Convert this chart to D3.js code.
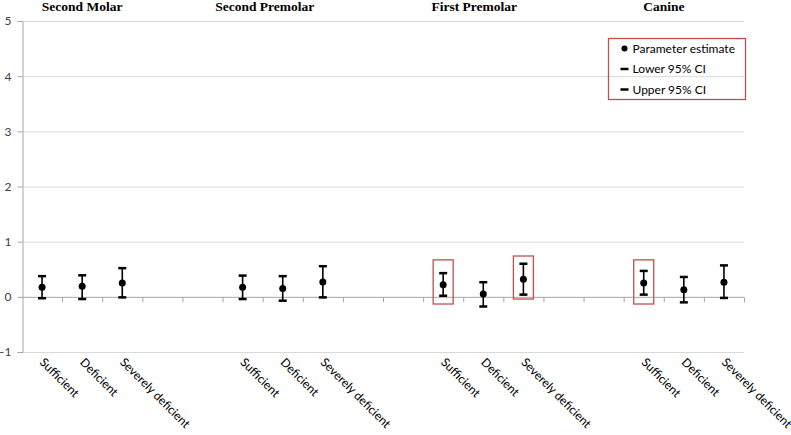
<!DOCTYPE html>
<html>
<head>
<meta charset="utf-8">
<script src="https://cdn.jsdelivr.net/npm/d3@7"></script>
<style>
  body { margin: 0; background: #fff; }
  svg { display: block; }
</style>
</head>
<body>
<div id="chart"></div>
<script>
// data
var groups = ['Second Molar', 'Second Premolar', 'First Premolar', 'Canine'];
var levels = ['Sufficient', 'Deficient', 'Severely deficient'];
var estimate = [0.175, 0.19, 0.25,   0.175, 0.15, 0.27,   0.22, 0.05, 0.32,   0.25, 0.13, 0.265];
var lower    = [-0.025, -0.04, -0.01, -0.04, -0.07, -0.01, 0.02, -0.175, 0.04, 0.04, -0.10, -0.02];
var upper    = [0.375, 0.39, 0.52,   0.385, 0.375, 0.555, 0.43, 0.265, 0.60,  0.47, 0.36, 0.57];
var yTicks = [-1, 0, 1, 2, 3, 4, 5];
var legendItems = ['Parameter estimate', 'Lower 95% CI', 'Upper 95% CI'];
// red boxes drawn round some estimates: [group, level, top, bottom] in y units
var highlights = [
    [2, 0, 0.67, -0.13],
    [2, 2, 0.74, -0.04],
    [3, 0, 0.67, -0.13]
];

var width = 791, height = 435;
var red = '#c0504d';

// 3 used slots + 2 empty ones per group, no gap after the last one
var slots = [];
groups.forEach(function (g, gi) {
    levels.forEach(function (l) { slots.push(gi + '|' + l); });
    if (gi < groups.length - 1) {
        slots.push(gi + '|gap1');
        slots.push(gi + '|gap2');
    }
});

var points = [];
groups.forEach(function (g, gi) {
    levels.forEach(function (l, li) {
        var i = gi * levels.length + li;
        points.push({ slot: gi + '|' + l, level: l, est: estimate[i], lo: lower[i], hi: upper[i] });
    });
});

var x = d3.scaleBand().domain(slots).range([22, 744]).padding(0);
var y = d3.scaleLinear().domain([-1, 5]).range([352, 21]);

var svg = d3.select('#chart').append('svg')
    .attr('width', width)
    .attr('height', height);

// grid
svg.append('g').selectAll('line')
    .data(yTicks.filter(function (d) { return d !== 0; }))
    .enter().append('line')
    .attr('x1', 22).attr('x2', 744)
    .attr('y1', function (d) { return y(d) + 0.5; })
    .attr('y2', function (d) { return y(d) + 0.5; })
    .attr('stroke', '#d9d9d9')
    .attr('stroke-width', 1);

// y axis
var yAxis = svg.append('g')
    .attr('transform', 'translate(22.5,0)')
    .call(d3.axisLeft(y).tickValues(yTicks).tickSize(5).tickPadding(6).tickFormat(d3.format('d')));
yAxis.select('.domain').attr('stroke', '#a6a6a6');
yAxis.selectAll('.tick line').attr('stroke', '#a6a6a6');
yAxis.selectAll('text')
    .attr('fill', '#404040')
    .style('font-family', 'Lato, sans-serif')
    .style('font-size', '12px');

// x axis through zero
var xAxis = svg.append('g')
    .attr('transform', 'translate(0,' + (y(0) + 0.5) + ')');
xAxis.append('line')
    .attr('x1', 22).attr('x2', 744)
    .attr('stroke', '#a6a6a6');
xAxis.selectAll('line.tk')
    .data(slots)
    .enter().append('line')
    .attr('class', 'tk')
    .attr('x1', function (d) { return x(d) + x.bandwidth() + 0.5; })
    .attr('x2', function (d) { return x(d) + x.bandwidth() + 0.5; })
    .attr('y1', 0).attr('y2', 5)
    .attr('stroke', '#a6a6a6');

// group titles
var titleShift = [0, -18, -9, -20];
svg.append('g').selectAll('text')
    .data(groups)
    .enter().append('text')
    .attr('x', function (d, gi) { return x(gi + '|' + levels[1]) + x.bandwidth() / 2 + titleShift[gi]; })
    .attr('y', 11)
    .attr('text-anchor', 'middle')
    .style('font-family', '"Liberation Serif", "Times New Roman", serif')
    .style('font-weight', 'bold')
    .style('font-size', '13.5px')
    .attr('fill', '#000')
    .text(function (d) { return d; });

// category labels, rotated
svg.append('g').selectAll('text')
    .data(points)
    .enter().append('text')
    .attr('transform', function (d) {
        return 'translate(' + (x(d.slot) + x.bandwidth() / 2 - 3) + ',363) rotate(45)';
    })
    .style('font-family', 'Lato, sans-serif')
    .style('font-size', '12px')
    .attr('fill', '#000')
    .text(function (d) { return d.level; });

// error bars
var bars = svg.append('g').selectAll('g')
    .data(points)
    .enter().append('g')
    .attr('transform', function (d) { return 'translate(' + (x(d.slot) + x.bandwidth() / 2) + ',0)'; });

bars.append('line')
    .attr('y1', function (d) { return y(d.lo); })
    .attr('y2', function (d) { return y(d.hi); })
    .attr('stroke', '#000').attr('stroke-width', 1.6);
bars.append('line')
    .attr('x1', -4).attr('x2', 4)
    .attr('y1', function (d) { return y(d.lo); })
    .attr('y2', function (d) { return y(d.lo); })
    .attr('stroke', '#000').attr('stroke-width', 2.5);
bars.append('line')
    .attr('x1', -4).attr('x2', 4)
    .attr('y1', function (d) { return y(d.hi); })
    .attr('y2', function (d) { return y(d.hi); })
    .attr('stroke', '#000').attr('stroke-width', 2.5);
bars.append('circle')
    .attr('cy', function (d) { return y(d.est); })
    .attr('r', 3.5)
    .attr('fill', '#000');

// highlight boxes
svg.append('g').selectAll('rect')
    .data(highlights)
    .enter().append('rect')
    .attr('x', function (d) { return x(d[0] + '|' + levels[d[1]]) + x.bandwidth() / 2 - 10; })
    .attr('y', function (d) { return y(d[2]); })
    .attr('width', 20)
    .attr('height', function (d) { return y(d[3]) - y(d[2]); })
    .attr('fill', 'none')
    .attr('stroke', red)
    .attr('stroke-width', 1.3);

// legend
var legend = svg.append('g').attr('transform', 'translate(608.5,38.5)');
legend.append('rect')
    .attr('width', 137).attr('height', 61)
    .attr('fill', 'none')
    .attr('stroke', red)
    .attr('stroke-width', 1.3);
var li = legend.selectAll('g.item')
    .data(legendItems)
    .enter().append('g')
    .attr('class', 'item')
    .attr('transform', function (d, i) { return 'translate(0,' + (10 + i * 20.5) + ')'; });
li.filter(function (d, i) { return i === 0; }).append('circle')
    .attr('cx', 16).attr('r', 3).attr('fill', '#000');
li.filter(function (d, i) { return i > 0; }).append('line')
    .attr('x1', 12).attr('x2', 20)
    .attr('stroke', '#000').attr('stroke-width', 2.5);
li.append('text')
    .attr('x', 24)
    .attr('dy', '0.35em')
    .style('font-family', 'Lato, sans-serif')
    .style('font-size', '12px')
    .attr('fill', '#000')
    .text(function (d) { return d; });
</script>
</body>
</html>
